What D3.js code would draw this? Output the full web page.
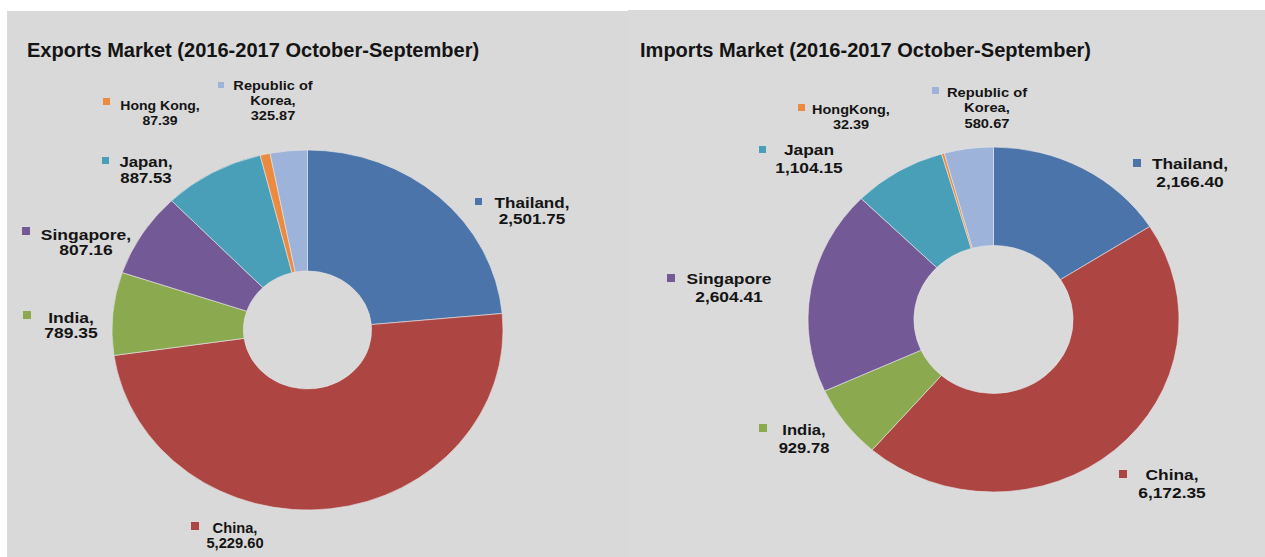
<!DOCTYPE html>
<html>
<head>
<meta charset="utf-8">
<script src="https://cdn.jsdelivr.net/npm/d3@7"></script>
<style>
  html, body { margin: 0; padding: 0; background: #fff; }
  svg { display: block; }
  text { font-family: "Liberation Sans", Arial, sans-serif; font-weight: bold; fill: #141414; }
</style>
</head>
<body>
<svg id="chart"></svg>
<script>
'use strict'

// data
const categories = ['Thailand', 'China', 'India', 'Singapore', 'Japan', 'Hong Kong', 'Republic of Korea']
const exportValues = [2501.75, 5229.60, 789.35, 807.16, 887.53, 87.39, 325.87]
const importValues = [2166.40, 6172.35, 929.78, 2604.41, 1104.15, 32.39, 580.67]
const exportNames = [['Thailand,'], ['China,'], ['India,'], ['Singapore,'], ['Japan,'], ['Hong Kong,'], ['Republic of', 'Korea,']]
const importNames = [['Thailand,'], ['China,'], ['India,'], ['Singapore'], ['Japan'], ['HongKong,'], ['Republic of', 'Korea,']]
const titles = ['Exports Market (2016-2017 October-September)', 'Imports Market (2016-2017 October-September)']

const colors = ['#4A74AA', '#AD4542', '#8BAA4F', '#735A97', '#4A9FB8', '#EC8A3F', '#9DB3D9']

const width = 1265, height = 557
const fmt = d3.format(',.2f')

const svg = d3.select('#chart').attr('width', width).attr('height', height)

// grey panels (scan has a white margin on top / left)
svg.append('rect').attr('x', 7).attr('y', 11).attr('width', 621).attr('height', height - 11).attr('fill', '#D9D9D9')
svg.append('rect').attr('x', 628).attr('y', 10).attr('width', width - 628).attr('height', height - 10).attr('fill', '#DADADA')

// label placement: [centre x, first baseline, marker x, marker y, font size, line height, marker size, x stretch]
const exportLabels = [
    [532, 208, 475, 198, 14, 16, 7, 1.22],
    [235, 533, 191, 522, 14, 15, 8, 1.05],
    [71, 323, 23, 311, 14, 15, 8, 1.25],
    [86, 240, 22, 227, 14, 15, 8, 1.25],
    [146, 167, 102, 157, 14, 16, 7, 1.2],
    [160, 110, 103, 98, 13, 15, 7, 1.08],
    [273, 90, 218, 82, 13, 15, 6, 1.12]
]
const importLabels = [
    [1190, 169, 1133, 159, 15.5, 18, 8, 1.12],
    [1172, 480, 1119, 470, 15.5, 18, 8, 1.12],
    [804, 435, 759, 424, 15.5, 18, 8, 1.07],
    [729, 284, 667, 274, 15.5, 18, 8, 1.12],
    [809, 155, 759, 146, 15.5, 18, 7, 1.12],
    [851, 114, 798, 104, 13.5, 15, 7, 1.07],
    [987, 97, 932, 87, 13.5, 15.5, 7, 1.09]
]

const charts = [
    { title: titles[0], titleX: 27, values: exportValues, names: exportNames, labels: exportLabels,
      cx: 307.5, cy: 330, rx: 195.5, ry: 180, inner: 59 },
    { title: titles[1], titleX: 640, values: importValues, names: importNames, labels: importLabels,
      cx: 993.5, cy: 319.5, rx: 185.5, ry: 172.5, inner: 74 }
]

const pie = d3.pie().sort(null).value(d => d.value)

charts.forEach(c => {
    const data = categories.map((name, i) => ({ name, value: c.values[i], color: colors[i], i }))

    // title: a touch taller than wide, like the scan
    svg.append('text')
        .attr('transform', 'translate(' + c.titleX + ',57) scale(0.955,1)')
        .style('font-size', '21px')
        .text(c.title)

    // the scanned donut is a little wider than tall
    const arc = d3.arc().innerRadius(c.inner).outerRadius(c.ry)
    const g = svg.append('g')
        .attr('transform', 'translate(' + c.cx + ',' + c.cy + ') scale(' + (c.rx / c.ry) + ',1)')

    g.selectAll('path')
        .data(pie(data))
        .enter().append('path')
        .attr('d', arc)
        .attr('fill', d => d.data.color)
        .attr('stroke', '#e6e6e6')
        .attr('stroke-width', 0.6)

    // data labels with a colour key square
    const lab = svg.append('g').selectAll('g')
        .data(data)
        .enter().append('g')

    lab.append('rect')
        .attr('x', d => c.labels[d.i][2])
        .attr('y', d => c.labels[d.i][3])
        .attr('width', d => c.labels[d.i][6])
        .attr('height', d => c.labels[d.i][6])
        .attr('fill', d => d.color)

    lab.each(function (d) {
        const l = c.labels[d.i]
        const lines = c.names[d.i].concat([fmt(d.value)])
        d3.select(this).append('g')
            .attr('transform', 'translate(' + l[0] + ',' + l[1] + ') scale(' + l[7] + ',1)')
            .selectAll('text')
            .data(lines)
            .enter().append('text')
            .attr('x', 0)
            .attr('y', (t, k) => k * l[5])
            .attr('text-anchor', 'middle')
            .style('font-size', l[4] + 'px')
            .text(t => t)
    })
})
</script>
</body>
</html>
